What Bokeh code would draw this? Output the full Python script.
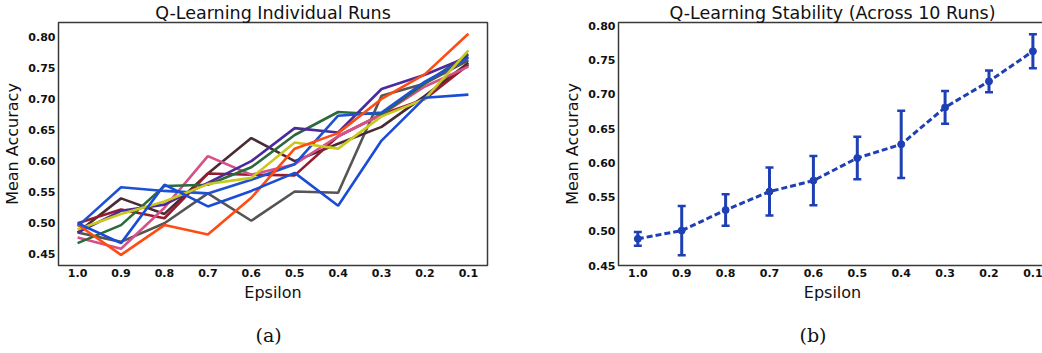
from bokeh.plotting import figure
from bokeh.layouts import row
from bokeh.models import (Range1d, FixedTicker, NumeralTickFormatter, Whisker,
                          TeeHead, ColumnDataSource, Title)
from bokeh.embed import file_html
from bokeh.resources import INLINE

# ---------------- data ----------------
epsilon = [1.0, 0.9, 0.8, 0.7, 0.6, 0.5, 0.4, 0.3, 0.2, 0.1]
y_ticks = [0.45, 0.50, 0.55, 0.60, 0.65, 0.70, 0.75, 0.80]

run_orange = [0.498, 0.449, 0.497, 0.482, 0.541, 0.620, 0.645, 0.700, 0.740, 0.805]
run_blue_a = [0.495, 0.558, 0.552, 0.548, 0.570, 0.595, 0.673, 0.678, 0.728, 0.766]
run_blue_b = [0.500, 0.468, 0.562, 0.527, 0.552, 0.581, 0.528, 0.633, 0.702, 0.707]
run_gray = [0.485, 0.470, 0.500, 0.548, 0.504, 0.551, 0.549, 0.705, 0.725, 0.762]
run_green = [0.468, 0.497, 0.560, 0.562, 0.590, 0.642, 0.679, 0.675, 0.725, 0.772]
run_purple = [0.485, 0.520, 0.530, 0.565, 0.600, 0.653, 0.646, 0.716, 0.739, 0.768]
run_yellow = [0.490, 0.515, 0.535, 0.563, 0.573, 0.630, 0.620, 0.672, 0.700, 0.778]
run_pink = [0.477, 0.459, 0.525, 0.608, 0.578, 0.595, 0.640, 0.675, 0.720, 0.752]
run_maroon = [0.500, 0.522, 0.508, 0.580, 0.578, 0.577, 0.640, 0.675, 0.700, 0.755]
run_brown = [0.485, 0.540, 0.515, 0.580, 0.637, 0.600, 0.628, 0.655, 0.705, 0.758]

mean_acc = [0.489, 0.501, 0.531, 0.558, 0.574, 0.607, 0.627, 0.681, 0.719, 0.763]
std_acc = [0.010, 0.036, 0.023, 0.035, 0.036, 0.031, 0.049, 0.024, 0.016, 0.025]

runs = [
    (run_gray, "#555555"),
    (run_brown, "#4a2b33"),
    (run_maroon, "#951c2c"),
    (run_pink, "#d6508a"),
    (run_green, "#2b6b3b"),
    (run_purple, "#4b2a9c"),
    (run_blue_a, "#1f52d0"),
    (run_yellow, "#c8c81e"),
    (run_orange, "#ff4c12"),
    (run_blue_b, "#1a4cd6"),
]

FONT = "DejaVu Sans"


def style(p):
    p.title.text_font = FONT
    p.title.text_font_size = "17.5px"
    p.title.text_font_style = "normal"
    p.title.text_color = "#111111"
    p.title.align = "center"
    p.title.standoff = 0
    p.xgrid.visible = False
    p.ygrid.visible = False
    p.outline_line_color = "#3a3a3a"
    p.outline_line_width = 1.5
    p.background_fill_color = "white"
    p.border_fill_color = "white"
    for ax in (p.xaxis[0], p.yaxis[0]):
        ax.axis_line_color = None
        ax.major_tick_line_color = None
        ax.minor_tick_line_color = None
        ax.major_tick_out = 0
        ax.major_tick_in = 0
        ax.major_label_text_font = FONT
        ax.major_label_text_font_size = "11px"
        ax.major_label_text_font_style = "bold"
        ax.major_label_text_color = "#111111"
        ax.major_label_standoff = 3
        ax.axis_label_text_font = FONT
        ax.axis_label_text_font_size = "16px"
        ax.axis_label_text_font_style = "normal"
        ax.axis_label_text_color = "#111111"
        ax.axis_label_standoff = 3
    p.xaxis.ticker = FixedTicker(ticks=epsilon)
    p.xaxis.formatter = NumeralTickFormatter(format="0.0")
    p.yaxis.ticker = FixedTicker(ticks=y_ticks)
    p.yaxis.formatter = NumeralTickFormatter(format="0.00")
    p.xaxis.axis_label = "Epsilon"
    p.yaxis.axis_label = "Mean Accuracy"


def caption(p, text, offset):
    p.add_layout(Title(text=text, align="left", offset=offset, standoff=35,
                       text_font="DejaVu Serif", text_font_size="19px",
                       text_font_style="normal", text_color="#111111"), "below")


# ---------------- (a) individual runs ----------------
pa = figure(frame_width=429, frame_height=243, output_backend="svg",
            toolbar_location=None, title="Q-Learning Individual Runs",
            x_range=Range1d(1.044, 0.056), y_range=Range1d(0.432, 0.823),
            min_border_left=54, min_border_right=37, min_border_top=0,
            min_border_bottom=85)
style(pa)
for vals, col in runs:
    pa.line(epsilon, vals, line_color=col, line_width=2.6)
caption(pa, "(a)", 197)

# ---------------- (b) mean with error bars ----------------
pb = figure(frame_width=428, frame_height=243, output_backend="svg",
            toolbar_location=None, title="Q-Learning Stability (Across 10 Runs)",
            x_range=Range1d(1.044, 0.069), y_range=Range1d(0.45, 0.805),
            min_border_left=94, min_border_right=0, min_border_top=0,
            min_border_bottom=85)
style(pb)
BLUE = "#1f3fb4"
src = ColumnDataSource(dict(
    x=epsilon, y=mean_acc,
    lower=[m - s for m, s in zip(mean_acc, std_acc)],
    upper=[m + s for m, s in zip(mean_acc, std_acc)],
))
pb.line("x", "y", source=src, line_color=BLUE, line_width=3, line_dash="6 3")
pb.add_layout(Whisker(base="x", lower="lower", upper="upper", source=src,
                      line_color=BLUE, line_width=3,
                      lower_head=TeeHead(size=8, line_color=BLUE, line_width=2.5),
                      upper_head=TeeHead(size=8, line_color=BLUE, line_width=2.5)))
pb.scatter("x", "y", source=src, size=7, fill_color=BLUE, line_color=BLUE)
caption(pb, "(b)", 181)

layout = row(pa, pb)
open("out.html", "w").write(file_html(layout, INLINE))
